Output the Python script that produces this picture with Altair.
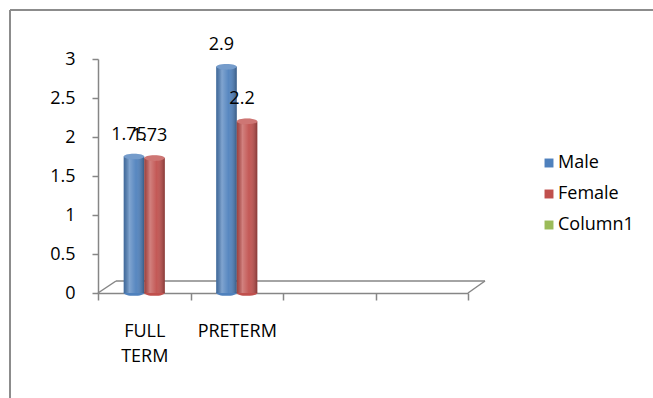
import altair as alt
import pandas as pd

categories = ["FULL TERM", "PRETERM", "", " "]
series = ["Male", "Female", "Column1"]
colors = ["#4F81BD", "#C0504D", "#9BBB59"]
male = [1.75, 2.9]
female = [1.73, 2.2]
value_labels_male = ["1.75", "2.9"]
value_labels_female = ["1.73", "2.2"]
y_ticks = [0, 0.5, 1, 1.5, 2, 2.5, 3]

rows = []
for i, c in enumerate(categories[:2]):
    rows.append({"category": c, "series": "Male", "value": male[i], "label": value_labels_male[i], "zero": 0})
    rows.append({"category": c, "series": "Female", "value": female[i], "label": value_labels_female[i], "zero": 0})
df = pd.DataFrame(rows)

FONT = "Open Sans"
W, H = 370, 234

x = alt.X("category:N", scale=alt.Scale(domain=categories, paddingInner=0, paddingOuter=0),
          axis=alt.Axis(title=None, labelAngle=0, tickBand="extent", tickSize=7, tickColor="#868686",
                        tickWidth=1.5, domainColor="#868686", domainWidth=1.5,
                        labelFont=FONT, labelFontSize=18, labelColor="black", labelPadding=22,
                        labelLineHeight=25, labelBaseline="top",
                        labelExpr="datum.value == 'FULL TERM' ? ['FULL', 'TERM'] : datum.label"))
xo = alt.XOffset("series:N", scale=alt.Scale(domain=["_l", "Male", "Female", "_r"], paddingInner=0, paddingOuter=0.25))
yscale = alt.Scale(domain=[0, 3], nice=False)
yaxis = alt.Axis(title=None, values=y_ticks, labelExpr="format(datum.value, '.1~f')", grid=False,
                 labelOverlap=False, labelFlush=False,
                 domainColor="#868686", domainWidth=1.5, tickColor="#868686", tickWidth=1.5,
                 tickSize=6, labelPadding=17, labelFont=FONT, labelFontSize=18,
                 labelColor="black")
y = alt.Y("value:Q", scale=yscale, axis=yaxis)
y0 = alt.Y("zero:Q", scale=yscale, axis=yaxis)
color = alt.Color("series:N", scale=alt.Scale(domain=series, range=colors),
                  legend=alt.Legend(title=None, orient="none", legendX=442, legendY=95,
                                    symbolType="square", symbolSize=80, symbolStrokeWidth=0,
                                    labelFont=FONT, labelFontSize=18, labelColor="black",
                                    labelOffset=0, rowPadding=13))

base = alt.Chart(df)
bars = base.mark_bar().encode(x=x, xOffset=xo, y=y, color=color)

grad = alt.Gradient(gradient="linear", x1=0, x2=1, y1=0, y2=0, stops=[
    alt.GradientStop(color="rgba(0,0,0,0.18)", offset=0),
    alt.GradientStop(color="rgba(255,255,255,0.28)", offset=0.28),
    alt.GradientStop(color="rgba(255,255,255,0.05)", offset=0.6),
    alt.GradientStop(color="rgba(0,0,0,0.3)", offset=1),
])
shine = base.mark_bar(color=grad).encode(x=x, xOffset=xo, y=y)

ellipse = "M -1 0 A 1 0.28 0 1 0 1 0 A 1 0.28 0 1 0 -1 0 Z"
tops = base.mark_point(shape=ellipse, filled=True, size=420, opacity=1).encode(
    x=x, xOffset=xo, y=y, color=color)
tops_hi = base.mark_point(shape=ellipse, filled=True, size=420, opacity=0.22, color="white").encode(
    x=x, xOffset=xo, y=y)
bottoms = base.mark_point(shape=ellipse, filled=True, size=420, opacity=1).encode(
    x=x, xOffset=xo, y=y0, color=color)

labels = base.mark_text(font=FONT, fontSize=18, color="black", baseline="alphabetic", dy=-17, dx=-5).encode(
    x=x, xOffset=xo, y=y, text="label:N")

deco = alt.Chart(pd.DataFrame({"k": [0]}))
line_style = dict(color="#868686", strokeWidth=1.5)
floor_back = deco.mark_rule(**line_style).encode(x=alt.value(18), x2=alt.value(387), y=alt.value(222))
floor_left = deco.mark_rule(**line_style).encode(x=alt.value(0), x2=alt.value(18), y=alt.value(234), y2=alt.value(222))
floor_right = deco.mark_rule(**line_style).encode(x=alt.value(370), x2=alt.value(387), y=alt.value(234), y2=alt.value(222))
frame_style = dict(color="#8c8c8c", strokeWidth=2)
frame_top = deco.mark_rule(**frame_style).encode(x=alt.value(-88), x2=alt.value(600), y=alt.value(-49))
frame_left = deco.mark_rule(**frame_style).encode(x=alt.value(-88), y=alt.value(-49), y2=alt.value(400))

chart = alt.layer(
    frame_top, frame_left, floor_back, floor_left, floor_right,
    bottoms, bars, shine, tops, tops_hi, labels
).properties(
    width=W, height=H,
    background="white",
    autosize=alt.AutoSizeParams(type="none"),
    padding={"left": 98, "top": 59, "right": 185, "bottom": 105},
).configure_view(stroke=None)

chart.save("out.html", embed_options={"renderer": "svg", "actions": False})
